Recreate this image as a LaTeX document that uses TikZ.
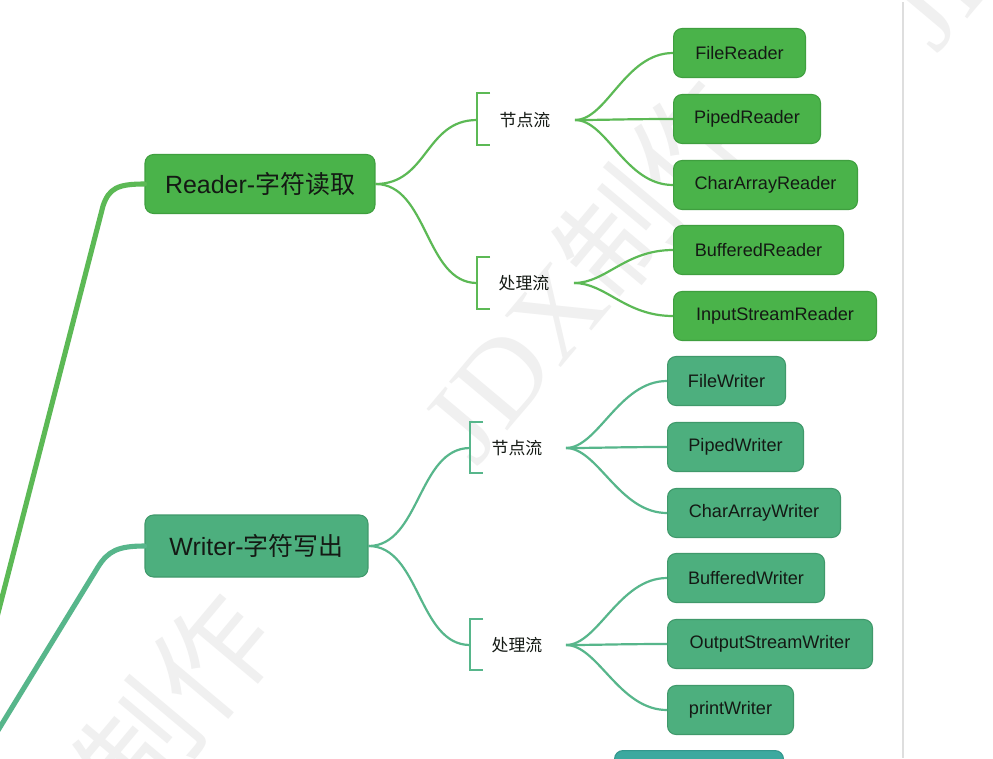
\documentclass[tikz,border=0pt]{standalone}
\usepackage{fontspec}
\setmainfont{Liberation Sans}
\newfontfamily\cjk{Noto Sans CJK SC}
\newfontfamily\wmserif{Liberation Serif}
\usetikzlibrary{calc}
\definecolor{rfill}{HTML}{4AB34A}
\definecolor{rdraw}{HTML}{3F9F3F}
\definecolor{rline}{HTML}{5CB955}
\definecolor{wfill}{HTML}{4DAF7E}
\definecolor{wdraw}{HTML}{40996B}
\definecolor{wline}{HTML}{57B68B}
\definecolor{tfill}{HTML}{3CA99F}
\definecolor{tdraw}{HTML}{33978D}
\definecolor{txt}{HTML}{141914}
\definecolor{wm}{HTML}{F0F0F0}
\tikzset{
  box/.style={rounded corners=0.17cm, line width=0.6pt, inner sep=0pt, text=txt, align=center},
  mainbox/.style={box, minimum height=1.18cm, font=\fontsize{14.2}{16}\selectfont},
  leafbox/.style={box, minimum height=0.98cm, font=\fontsize{10.3}{12}\selectfont},
  rbox/.style={fill=rfill, draw=rdraw},
  wbox/.style={fill=wfill, draw=wdraw},
  cat/.style={inner sep=0pt, text=txt, font=\cjk\fontsize{9.6}{11}\selectfont},
  trunk/.style={line width=2.9pt, line cap=round},
  twig/.style={line width=1.25pt},
  brack/.style={line width=1.25pt},
  wmark/.style={text=wm, inner sep=0pt, rotate=50, font=\fontsize{66}{68}\selectfont}
}
\begin{document}
\begin{tikzpicture}[x=0.02cm, y=-0.02cm]
\useasboundingbox (0,0) rectangle (993,758);
\clip (0,0) rectangle (993,758);
\fill[white] (0,0) rectangle (993,758);

% watermarks
\node[wmark] (wm1) at (586,270) {{\wmserif JDX}{\cjk 制作}};
\node[wmark, anchor=east] (wm2) at (250,612) {{\wmserif JDX}{\cjk 制作}};
\node[wmark, anchor=west] (wm3) at (903,28) {{\wmserif JDX}{\cjk 制作}};

% right separator
\draw[black!13, line width=0.7pt] (903,2) -- (903,758);

% main nodes
\node[mainbox, rbox, minimum width=4.6cm] (reader) at (260,184) {Reader-{\cjk 字符读取}};
\node[mainbox, wbox, minimum width=4.46cm, minimum height=1.24cm] (writer) at (256.5,546) {Writer-{\cjk 字符写出}};

% trunk lines
\coordinate (rstart) at (-3,617);
\coordinate (wstart) at (-3,732);
\draw[trunk, rline] (rstart) -- (103,206) .. controls (109,188) and (118,184) .. (reader.west);
\draw[trunk, wline] (wstart) -- (98,567) .. controls (108,551) and (118,546) .. (writer.west);

% category labels
\node[cat] (rnode) at (525,120) {节点流};
\node[cat] (rproc) at (524,283) {处理流};
\node[cat] (wnode) at (517,448) {节点流};
\node[cat] (wproc) at (517,645) {处理流};

% brackets
\coordinate (rb1) at (477,120);
\coordinate (rb2) at (477,283);
\coordinate (wb1) at (470,448);
\coordinate (wb2) at (470,645);
\draw[brack, rline] (490,93) -- (477,93) -- (477,145) -- (490,145);
\draw[brack, rline] (490,257) -- (477,257) -- (477,309) -- (490,309);
\draw[brack, wline] (483,422) -- (470,422) -- (470,473) -- (483,473);
\draw[brack, wline] (483,619) -- (470,619) -- (470,670) -- (483,670);

% main to category
\draw[twig, rline] (reader.east) .. controls (428,184) and (425,120) .. (rb1);
\draw[twig, rline] (reader.east) .. controls (428,184) and (425,283) .. (rb2);
\draw[twig, wline] (writer.east) .. controls (420,546) and (418,448) .. (wb1);
\draw[twig, wline] (writer.east) .. controls (420,546) and (418,645) .. (wb2);

% fan origins
\coordinate (rf1) at (575,120);
\coordinate (rf2) at (574,283);
\coordinate (wf1) at (566,448);
\coordinate (wf2) at (566,645);

% reader leaves
\node[leafbox, rbox, minimum width=2.64cm, anchor=west] (l1) at (673,53) {FileReader};
\node[leafbox, rbox, minimum width=2.94cm, anchor=west] (l2) at (673,119) {PipedReader};
\node[leafbox, rbox, minimum width=3.68cm, anchor=west] (l3) at (673,185) {CharArrayReader};
\node[leafbox, rbox, minimum width=3.40cm, anchor=west] (l4) at (673,250) {BufferedReader};
\node[leafbox, rbox, minimum width=4.06cm, anchor=west] (l5) at (673,316) {InputStreamReader};

% writer leaves
\node[leafbox, wbox, minimum width=2.36cm, anchor=west] (m1) at (667,381) {FileWriter};
\node[leafbox, wbox, minimum width=2.72cm, anchor=west] (m2) at (667,447) {PipedWriter};
\node[leafbox, wbox, minimum width=3.46cm, anchor=west] (m3) at (667,513) {CharArrayWriter};
\node[leafbox, wbox, minimum width=3.14cm, anchor=west] (m4) at (667,578) {BufferedWriter};
\node[leafbox, wbox, minimum width=4.10cm, anchor=west] (m5) at (667,644) {OutputStreamWriter};
\node[leafbox, wbox, minimum width=2.52cm, anchor=west] (m6) at (667,710) {printWriter};

% partial next node
\node[box, fill=tfill, draw=tdraw, minimum width=3.38cm, minimum height=1.1cm, anchor=north west] (next) at (614,750) {};

% fans
\foreach \o/\l in {rf1/l1, rf1/l2, rf1/l3, rf2/l4, rf2/l5}
  \draw[twig, rline] (\o) .. controls ($(\o)+(32,0)$) and ($(\l.west)+(-48,0)$) .. (\l.west);
\foreach \o/\l in {wf1/m1, wf1/m2, wf1/m3, wf2/m4, wf2/m5, wf2/m6}
  \draw[twig, wline] (\o) .. controls ($(\o)+(32,0)$) and ($(\l.west)+(-48,0)$) .. (\l.west);
\end{tikzpicture}
\end{document}
